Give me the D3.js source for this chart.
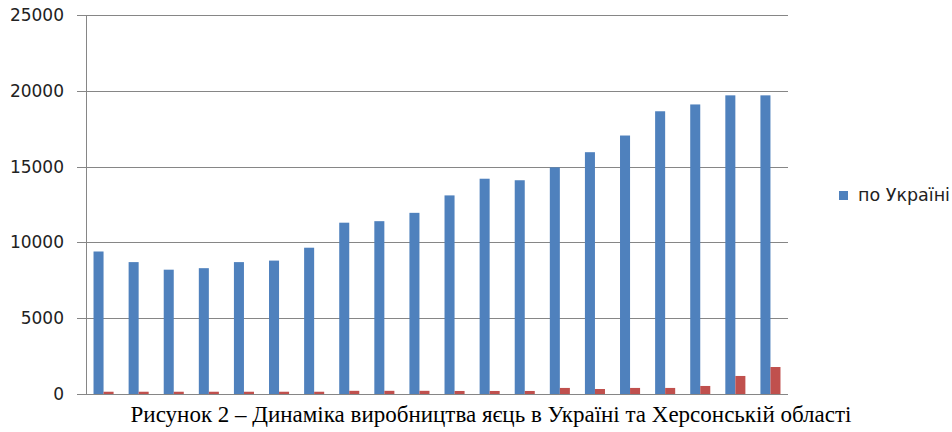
<!DOCTYPE html>
<html>
<head>
<meta charset="utf-8">
<script src="https://cdn.jsdelivr.net/npm/d3@7"></script>
<style>
  body { margin: 0; background: #fff; }
  svg { display: block; }
</style>
</head>
<body>
<div id="chart"></div>
<script>
// years (category labels are hidden in the source chart)
const years = ['1995', '1996', '1997', '1998', '1999', '2000', '2001', '2002', '2003', '2004',
    '2005', '2006', '2007', '2008', '2009', '2010', '2011', '2012', '2013', '2014'];
const seriesNames = ['по Україні', 'по Херсонській області'];
const ukraine = [9400, 8700, 8200, 8300, 8700, 8800, 9650, 11300, 11400, 11950,
    13100, 14200, 14100, 14950, 15950, 17050, 18650, 19100, 19700, 19700];
const kherson = [150, 150, 150, 150, 150, 150, 150, 210, 210, 210,
    200, 200, 200, 400, 330, 400, 400, 530, 1190, 1780];
const yTicks = [0, 5000, 10000, 15000, 20000, 25000];
const caption = 'Рисунок 2 – Динаміка виробництва яєць в Україні та Херсонській області';

const width = 952, height = 432;
const plotL = 86, plotR = 788, plotT = 15, plotB = 394;
const colors = ['#4f81bd', '#c0504d'];

const svg = d3.select('#chart').append('svg')
    .attr('width', width)
    .attr('height', height);

const x = d3.scaleBand()
    .domain(years)
    .range([plotL, plotR]);

// gap width 150% like the original spreadsheet chart
const barW = x.bandwidth() / 3.5;

const y = d3.scaleLinear()
    .domain([0, 25000])
    .range([plotB, plotT]);

// gridlines, with the little tick stub left of the axis
svg.append('g')
    .selectAll('line')
    .data(yTicks)
    .enter()
    .append('line')
    .attr('x1', plotL - 9)
    .attr('x2', plotR)
    .attr('y1', d => Math.round(y(d)) + 0.5)
    .attr('y2', d => Math.round(y(d)) + 0.5)
    .attr('stroke', '#868686')
    .attr('stroke-width', 1);

svg.append('line')
    .attr('x1', plotL + 0.5)
    .attr('x2', plotL + 0.5)
    .attr('y1', plotT)
    .attr('y2', plotB + 1)
    .attr('stroke', '#868686');

svg.append('g')
    .selectAll('text')
    .data(yTicks)
    .enter()
    .append('text')
    .attr('x', 64)
    .attr('y', d => y(d) + 6)
    .attr('text-anchor', 'end')
    .attr('font-family', 'DejaVu Sans, Verdana, sans-serif')
    .attr('font-size', 17)
    .attr('fill', '#222')
    .text(d => d);

const series = [ukraine, kherson];
series.forEach((vals, si) => {
    svg.append('g')
        .selectAll('rect')
        .data(vals)
        .enter()
        .append('rect')
        .attr('x', (d, i) => x(years[i]) + barW * 0.75 + si * barW)
        .attr('width', barW)
        .attr('y', d => y(d))
        .attr('height', d => y(0) - y(d))
        .attr('fill', colors[si]);
});

// legend (only first entry is visible in the source)
const lg = svg.append('g').attr('transform', 'translate(839, 191)');
lg.append('rect')
    .attr('width', 9)
    .attr('height', 9)
    .attr('fill', colors[0]);
lg.append('text')
    .attr('x', 19)
    .attr('y', 10)
    .attr('font-family', 'DejaVu Sans, Verdana, sans-serif')
    .attr('font-size', 17.5)
    .attr('fill', '#222')
    .text(seriesNames[0]);

svg.append('text')
    .attr('x', 491)
    .attr('y', 422)
    .attr('text-anchor', 'middle')
    .attr('font-family', 'Liberation Serif, Times New Roman, serif')
    .attr('font-size', 23)
    .attr('fill', '#000')
    .text(caption);
</script>
</body>
</html>
